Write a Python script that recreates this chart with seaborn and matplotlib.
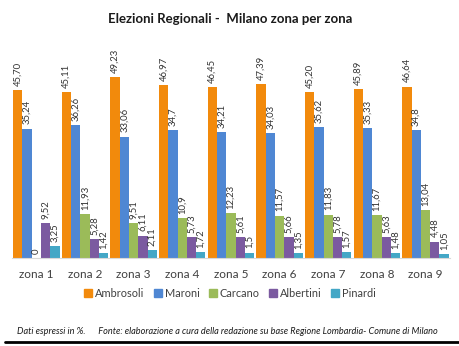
import matplotlib
matplotlib.use("Agg")
import matplotlib.pyplot as plt
import seaborn as sns
import pandas as pd
from matplotlib.lines import Line2D

zones = ["zona 1", "zona 2", "zona 3", "zona 4", "zona 5", "zona 6", "zona 7", "zona 8", "zona 9"]
candidates = ["Ambrosoli", "Maroni", "Carcano", "Albertini", "Pinardi"]

ambrosoli = ["45,70", "45,11", "49,23", "46,97", "46,45", "47,39", "45,20", "45,89", "46,64"]
maroni = ["35,24", "36,26", "33,06", "34,7", "34,21", "34,03", "35,62", "35,33", "34,8"]
carcano = ["0", "11,93", "9,51", "10,9", "12,23", "11,57", "11,83", "11,67", "13,04"]
albertini = ["9,52", "5,28", "6,11", "5,73", "5,61", "5,66", "5,78", "5,63", "4,48"]
pinardi = ["3,25", "1,42", "2,11", "1,72", "1,5", "1,35", "1,57", "1,48", "1,05"]

colors = ["#F28A0C", "#4F87D3", "#9BBB59", "#7B5AA0", "#43A7C6"]

series = dict(zip(candidates, [ambrosoli, maroni, carcano, albertini, pinardi]))
rows = []
for cand, vals in series.items():
    for z, s in zip(zones, vals):
        rows.append({"zona": z, "candidato": cand, "label": s,
                     "valore": float(s.replace(",", "."))})
df = pd.DataFrame(rows)

sns.set_theme(style="white")
plt.rcParams["font.family"] = ["Lato", "DejaVu Sans"]

fig = plt.figure(figsize=(4.6, 3.46), dpi=100)
ax = fig.add_axes([0.026, 0.254, 0.952, 0.574])

sns.barplot(data=df, x="zona", y="valore", hue="candidato", order=zones,
            hue_order=candidates, palette=colors, width=0.955, ax=ax,
            legend=False, saturation=1, linewidth=0, errorbar=None)

for cont, cand in zip(ax.containers, candidates):
    ax.bar_label(cont, labels=series[cand], rotation=90, padding=3,
                 fontsize=6.8, color="#333333")

ax.set_ylim(0, 54)
ax.set_xlim(-0.5, len(zones) - 0.5)
ax.set_xlabel("")
ax.set_ylabel("")
ax.set_yticks([])
for side in ["left", "right", "top"]:
    ax.spines[side].set_visible(False)
ax.spines["bottom"].set_color("#d9d9d9")
ax.spines["bottom"].set_linewidth(0.8)
ax.tick_params(axis="x", length=0, pad=8, labelsize=8.5, labelcolor="#404040")

handles = [plt.Rectangle((0, 0), 1, 1, color=c) for c in colors]
fig.legend(handles, candidates, loc="center", bbox_to_anchor=(0.5, 0.152),
           ncol=5, frameon=False, fontsize=7.9, handlelength=0.75,
           handleheight=0.75, handletextpad=0.25, columnspacing=0.85,
           labelcolor="#404040")

fig.text(0.5, 0.945, "Elezioni Regionali -  Milano zona per zona",
         ha="center", va="center", fontsize=9.5, fontweight="bold", color="#1a1a1a")

fig.text(0.037, 0.043, "Dati espressi in %.      Fonte: elaborazione a cura della redazione su base Regione Lombardia- Comune di Milano",
         ha="left", va="center", fontsize=6.55, style="italic", color="#1a1a1a")

fig.add_artist(Line2D([0.01, 1.0], [0.012, 0.012], color="black", linewidth=2,
                      transform=fig.transFigure))

fig.savefig("out.png", dpi=100)
